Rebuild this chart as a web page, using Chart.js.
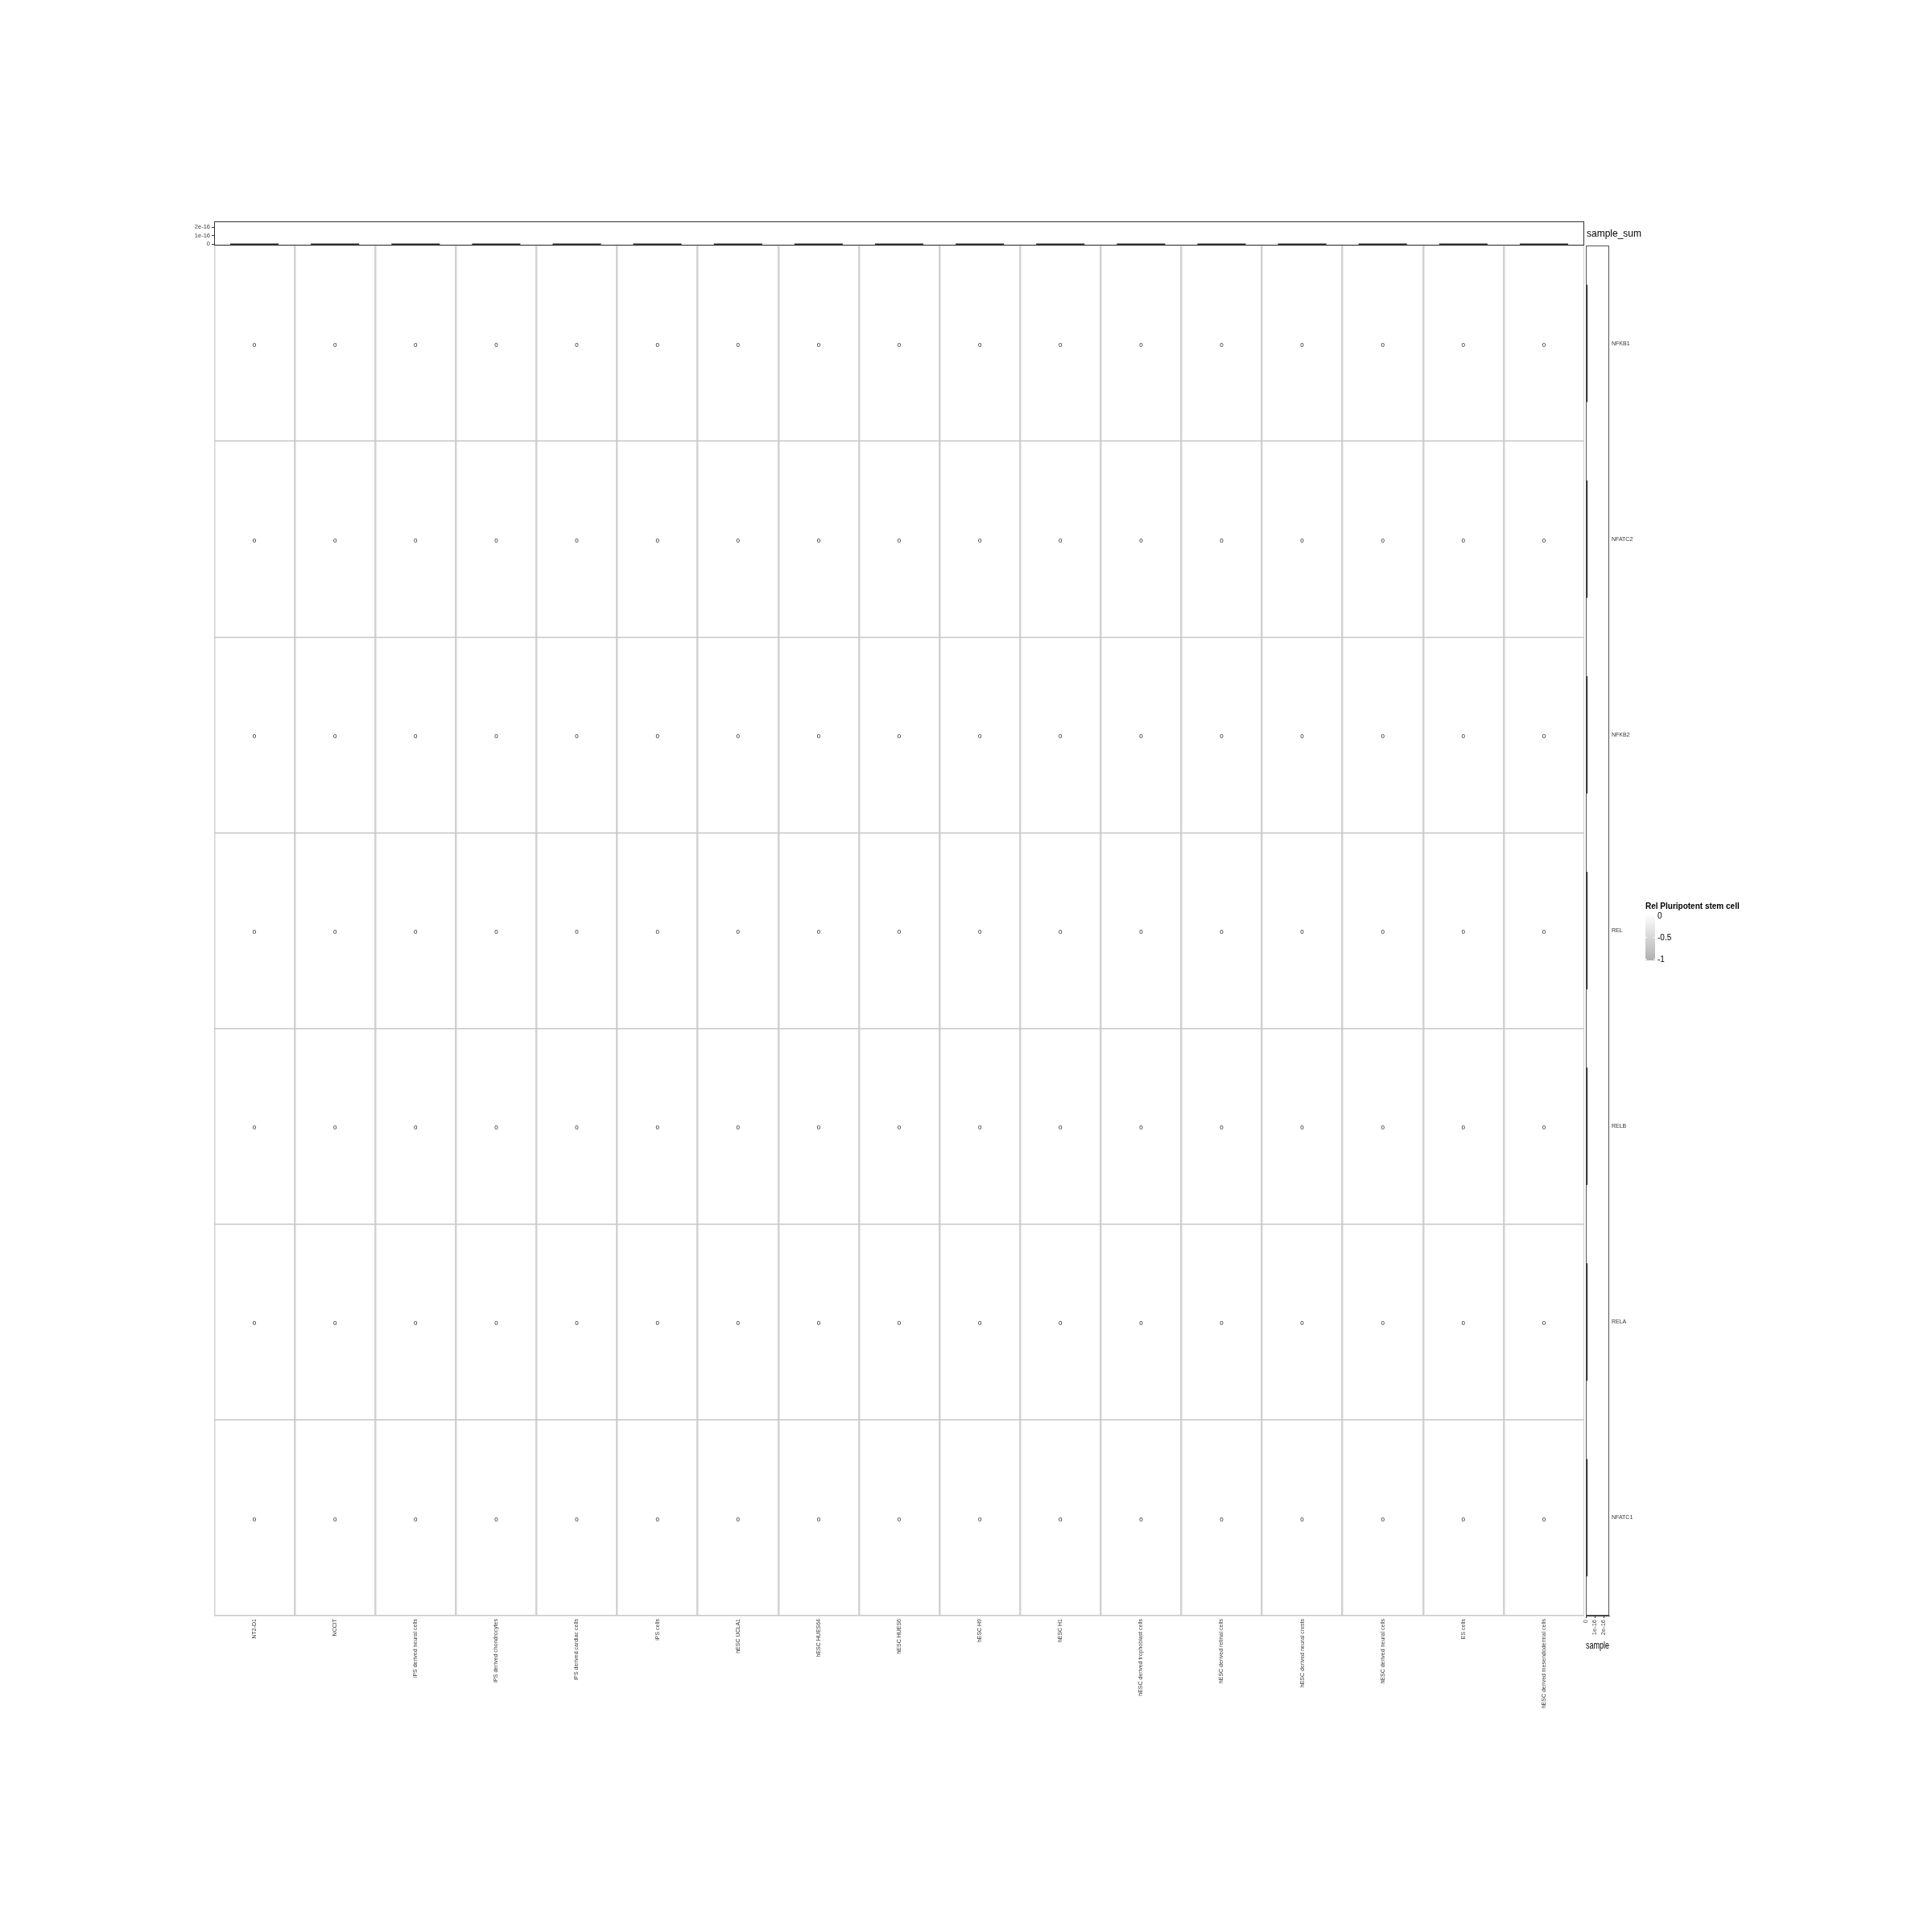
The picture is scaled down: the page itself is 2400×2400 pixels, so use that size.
<!DOCTYPE html>
<html><head><meta charset="utf-8">
<script src="https://cdn.jsdelivr.net/npm/chart.js@4.4.1/dist/chart.umd.min.js"></script>
<style>
html,body{margin:0;padding:0;background:#fff;}
body{width:2400px;height:2400px;position:relative;overflow:hidden;font-family:"Liberation Sans",Arial,sans-serif;}
canvas{position:absolute;}
.t{position:absolute;white-space:nowrap;color:#000;line-height:1;}
</style></head><body>
<canvas id="topc" width="1768" height="47" style="left:200px;top:265px"></canvas>
<canvas id="mainc" width="1702" height="1842" style="left:266px;top:305px"></canvas>
<canvas id="sidec" width="105" height="1762" style="left:1964px;top:297px"></canvas>
<div class="t" style="left:1971px;top:284px;font-size:12px">sample_sum</div>
<div id="legend"></div>
<script>
// ---------------- data ----------------
const samples = ["NT2-D1","NCCIT","iPS derived neural cells","iPS derived chondrocytes","iPS derived cardiac cells","iPS cells","hESC UCLA1","hESC HUES64","hESC HUES6","hESC H9","hESC H1","hESC derived trophoblast cells","hESC derived retinal cells","hESC derived neural crests","hESC derived neural cells","ES cells","hESC derived mesendodermal cells"];
const genes = ["NFKB1","NFATC2","NFKB2","REL","RELB","RELA","NFATC1"];
const valNFKB1  = [0,0,0,0,0,0,0,0,0,0,0,0,0,0,0,0,0];
const valNFATC2 = [0,0,0,0,0,0,0,0,0,0,0,0,0,0,0,0,0];
const valNFKB2  = [0,0,0,0,0,0,0,0,0,0,0,0,0,0,0,0,0];
const valREL    = [0,0,0,0,0,0,0,0,0,0,0,0,0,0,0,0,0];
const valRELB   = [0,0,0,0,0,0,0,0,0,0,0,0,0,0,0,0,0];
const valRELA   = [0,0,0,0,0,0,0,0,0,0,0,0,0,0,0,0,0];
const valNFATC1 = [0,0,0,0,0,0,0,0,0,0,0,0,0,0,0,0,0];
const sampleSum = [0,0,0,0,0,0,0,0,0,0,0,0,0,0,0,0,0];
const geneSum   = [0,0,0,0,0,0,0];
const sumTicks = [0, 1e-16, 2e-16];
const sumTickLabels = ["0","1e-16","2e-16"];
const legendTicks = [0, -0.5, -1];
const legendTickLabels = ["0","-0.5","-1"];
const legendTitle = "Rel Pluripotent stem cell";
const legendMin = -1, legendMax = 0;

const rows = [valNFKB1,valNFATC2,valNFKB2,valREL,valRELB,valRELA,valNFATC1];

// ---------------- styles ----------------
const FONT = "'Liberation Sans', Arial, sans-serif";
const lowRGB = [176,176,176], highRGB = [255,255,255];
function fillFor(v){
  let t = (v - legendMin)/(legendMax - legendMin);
  t = Math.max(0, Math.min(1, t));
  const c = lowRGB.map((l,i)=>Math.round(l + (highRGB[i]-l)*t));
  return `rgb(${c[0]},${c[1]},${c[2]})`;
}
Chart.defaults.font.family = FONT;
Chart.defaults.animation = false;

const frame = (color) => ({
  id: 'frame',
  afterDraw(chart){
    const a = chart.chartArea, ctx = chart.ctx;
    ctx.save(); ctx.strokeStyle = color; ctx.lineWidth = 1;
    ctx.strokeRect(Math.round(a.left)+0.5, Math.round(a.top)+0.5, Math.round(a.right-a.left)-1, Math.round(a.bottom-a.top)-1);
    ctx.restore();
  }
});

// ---------------- main heatmap ----------------
const cellText = {
  id: 'cellText',
  afterDraw(chart){
    const ctx = chart.ctx;
    const y = chart.scales.y;
    ctx.save();
    ctx.font = "8px " + FONT; ctx.fillStyle = "#1a1a1a";
    ctx.textAlign = "center"; ctx.textBaseline = "middle";
    chart.data.datasets.forEach((ds, di) => {
      const meta = chart.getDatasetMeta(di);
      meta.data.forEach((el, i) => {
        ctx.fillText(String(rows[di][i]), el.x, y.getPixelForValue(di) + 2);
      });
    });
    ctx.restore();
  }
};
new Chart(document.getElementById('mainc'), {
  type: 'bar',
  data: {
    labels: samples,
    datasets: genes.map((g, r) => ({
      label: g,
      data: rows[r].map(() => [r - 0.5, r + 0.5]),
      backgroundColor: rows[r].map(fillFor),
      borderWidth: 0,
      grouped: false,
      barPercentage: 1,
      categoryPercentage: 1
    }))
  },
  options: {
    responsive: false, devicePixelRatio: 1,
    layout: { padding: 0 },
    plugins: { legend: { display: false }, tooltip: { enabled: false } },
    scales: {
      x: {
        type: 'category', offset: true,
        grid: { offset: true, color: '#d2d2d2', lineWidth: 2.5, drawTicks: false, z: 1 },
        border: { display: false },
        ticks: { autoSkip: false, maxRotation: 90, minRotation: 90, padding: 4,
                 font: { size: 7, family: FONT }, color: '#404040' },
        afterFit(s){ s.height = 140; }
      },
      y: {
        type: 'linear', reverse: true, min: -0.5, max: genes.length - 0.5,
        grid: { color: '#c8c8c8', lineWidth: 1.5, drawTicks: false, z: 1 },
        border: { display: false },
        ticks: { display: false },
        afterBuildTicks(s){ s.ticks = genes.concat(['']).map((_, i) => ({ value: i - 0.5 })); },
        afterFit(s){ s.width = 0; }
      }
    }
  },
  plugins: [cellText]
});

// ---------------- top bar panel (sample_sum) ----------------
new Chart(document.getElementById('topc'), {
  type: 'bar',
  data: {
    labels: samples,
    datasets: [{ label: 'sample_sum', data: sampleSum, backgroundColor: '#2b2b2b',
                 minBarLength: 2, barPercentage: 0.6, categoryPercentage: 1, clip: false }]
  },
  options: {
    responsive: false, devicePixelRatio: 1,
    layout: { padding: { top: 10, bottom: 7, left: 0, right: 0 } },
    plugins: { legend: { display: false }, tooltip: { enabled: false } },
    scales: {
      x: { type: 'category', offset: true, display: false },
      y: {
        type: 'linear', min: -0.15e-16, max: 2.66e-16,
        grid: { drawOnChartArea: false, drawTicks: true, tickLength: 3, color: '#333' },
        border: { display: true, color: '#333', width: 1 },
        ticks: { padding: 2, font: { size: 7.5, family: FONT }, color: '#404040',
                 callback: (v) => sumTickLabels[sumTicks.indexOf(v)] },
        afterBuildTicks(s){ s.ticks = sumTicks.map(v => ({ value: v })); },
        afterFit(s){ s.width = 66; }
      }
    }
  },
  plugins: [frame('#333')]
});

// ---------------- side bar panel (sample) ----------------
new Chart(document.getElementById('sidec'), {
  type: 'bar',
  data: {
    labels: genes,
    datasets: [{ label: 'sample', data: geneSum, backgroundColor: '#111',
                 minBarLength: 2, barPercentage: 0.6, categoryPercentage: 1, clip: false }]
  },
  options: {
    indexAxis: 'y',
    responsive: false, devicePixelRatio: 1,
    layout: { padding: { top: 8, bottom: 0, left: 6, right: 0 } },
    plugins: { legend: { display: false }, tooltip: { enabled: false } },
    scales: {
      y: {
        type: 'category', offset: true, position: 'right',
        grid: { display: false, drawTicks: false },
        border: { display: false },
        ticks: { autoSkip: false, padding: 3, font: { size: 7, family: FONT }, color: '#333' },
        afterFit(s){ s.width = 70; }
      },
      x: {
        type: 'linear', min: 0, max: 2.63e-16,
        grid: { drawOnChartArea: false, drawTicks: true, tickLength: 3, color: '#333' },
        border: { display: true, color: '#333', width: 1 },
        ticks: { padding: 2, maxRotation: 90, minRotation: 90, font: { size: 7.5, family: FONT }, color: '#404040',
                 callback: (v) => sumTickLabels[sumTicks.indexOf(v)] },
        afterBuildTicks(s){ s.ticks = sumTicks.map(v => ({ value: v })); },
        title: { display: true, text: 'sample', color: '#000', font: { size: 12, family: FONT }, padding: { top: 0, bottom: 7 } },
        afterFit(s){ s.height = 52; }
      }
    }
  },
  plugins: [frame('#555')]
});

// ---------------- legend (colour bar) ----------------
(function(){
  const lg = document.getElementById('legend');
  const barLeft = 2044, barTop = 1135, barW = 12, barH = 58, inset = 2;
  let html = `<div class="t" style="left:${barLeft}px;top:1121px;font-size:10px;font-weight:bold">${legendTitle}</div>`;
  html += `<div style="position:absolute;left:${barLeft}px;top:${barTop}px;width:${barW}px;height:${barH}px;background:linear-gradient(to bottom, ${fillFor(legendMax)}, ${fillFor(legendMin)})"></div>`;
  legendTicks.forEach((v, i) => {
    const y = barTop + inset + (legendMax - v) / (legendMax - legendMin) * (barH - 2*inset);
    html += `<div style="position:absolute;left:${barLeft}px;top:${y-0.5}px;width:2px;height:1px;background:#fff"></div>`;
    html += `<div style="position:absolute;left:${barLeft+barW-2}px;top:${y-0.5}px;width:2px;height:1px;background:#fff"></div>`;
    html += `<div class="t" style="left:${barLeft+barW+3}px;top:${y-4}px;font-size:10px">${legendTickLabels[i]}</div>`;
  });
  lg.innerHTML = html;
})();
</script>
</body></html>
